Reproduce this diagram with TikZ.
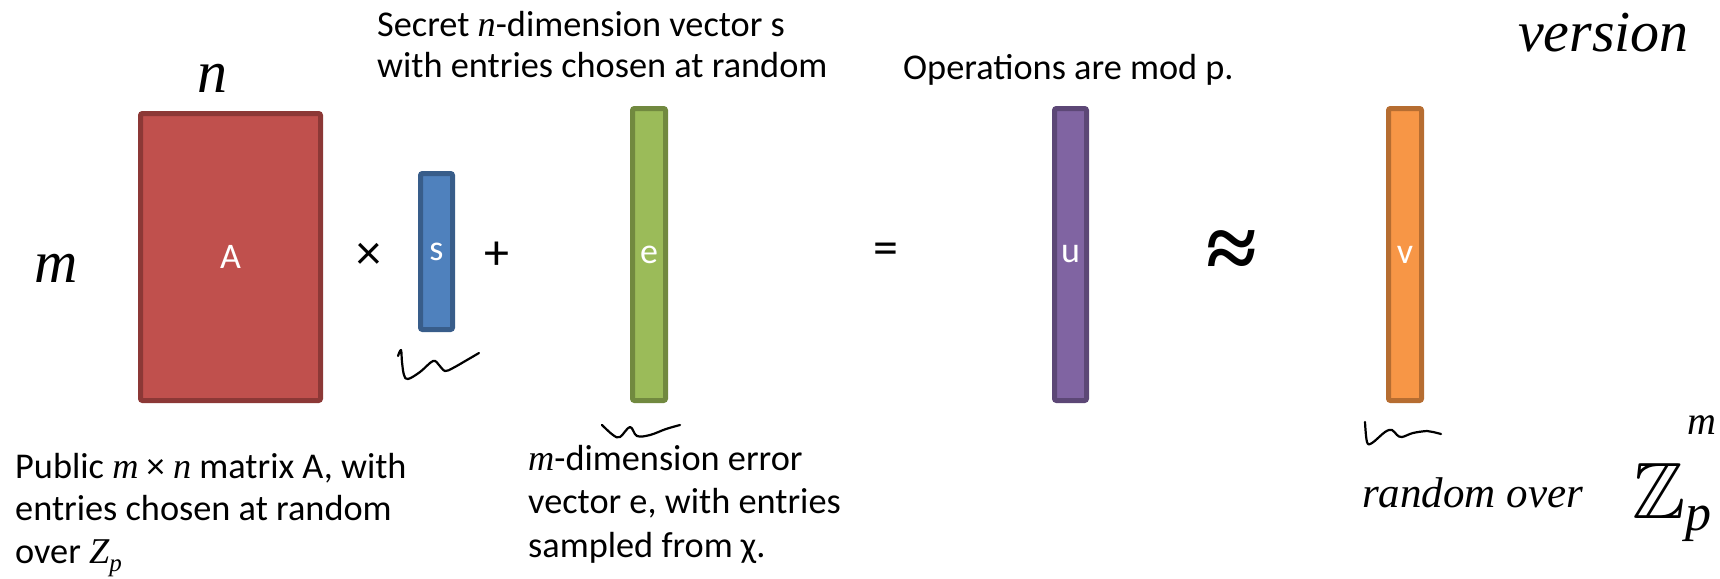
\documentclass[tikz,border=0pt]{standalone}
\usepackage{amssymb}
\usepackage{fontspec}
\setmainfont{Carlito}
\newfontfamily\handfont{Liberation Serif}
\newfontfamily\mfont{Liberation Serif}
\newcommand{\mv}[1]{{\mfont\itshape #1}}
\definecolor{redF}{HTML}{C0504D}\definecolor{redD}{HTML}{8C3836}
\definecolor{bluF}{HTML}{4F81BD}\definecolor{bluD}{HTML}{385D8A}
\definecolor{grnF}{HTML}{9BBB59}\definecolor{grnD}{HTML}{71893F}
\definecolor{purF}{HTML}{8064A2}\definecolor{purD}{HTML}{5C4776}
\definecolor{orgF}{HTML}{F79646}\definecolor{orgD}{HTML}{B66D31}
\begin{document}
\begin{tikzpicture}[x=1pt,y=-1pt,
  mat/.style={draw, line width=5pt, rounded corners=2pt, inner sep=0pt, text=white,
    font=\fontsize{36}{40}\selectfont},
  txt/.style={anchor=base west, inner sep=0pt, font=\fontsize{36.3}{42.5}\selectfont},
  op/.style={inner sep=0pt, font=\fontsize{50}{50}\selectfont},
  hand/.style={inner sep=0pt, font=\handfont\itshape\fontsize{60}{60}\selectfont},
  squig/.style={line width=2.2pt, line cap=round, line join=round}]
\useasboundingbox (0,0) rectangle (1720,578);
% matrices and vectors
\node[mat, fill=redF, draw=redD, minimum width=180, minimum height=287] (A) at (230.5,257) {A};
\node[mat, fill=bluF, draw=bluD, minimum width=32, minimum height=156] (s) at (436.5,251.5) {s};
\node[mat, fill=grnF, draw=grnD, minimum width=33, minimum height=292] (e) at (649,254.5) {e};
\node[mat, fill=purF, draw=purD, minimum width=32, minimum height=292] (u) at (1070.5,254.5) {u};
\node[mat, fill=orgF, draw=orgD, minimum width=33, minimum height=292] (v) at (1405,254.5) {v};
% operators
\node[op] (times) at (369,256) {×};
\node[op] (plus) at (497,256) {+};
\node[op] (eq) at (886,254) {=};
\node[inner sep=0pt, font=\mfont\bfseries\fontsize{92}{92}\selectfont] (approx) at (1232,255) {≈};
% printed texts
\node[txt] (secret) at (377,37) {\begin{tabular}[t]{@{}l@{}}Secret \mv{n}-dimension vector s\\[-1.5pt]with entries chosen at random\end{tabular}};
\node[txt] (ops) at (903,79) {Operations are mod p.};
\node[txt] (public) at (15,478) {\begin{tabular}[t]{@{}l@{}}Public \mv{m}~×~\mv{n} matrix A, with\\entries chosen at random\\over \mv{Z}\raisebox{-8pt}{\fontsize{25}{25}\selectfont\mv{p}}\end{tabular}};
\node[txt] (err) at (528,470) {\begin{tabular}[t]{@{}l@{}}\mv{m}-dimension error\\[1pt]vector e, with entries\\[1pt]sampled from χ.\end{tabular}};
% handwritten texts
\node[hand] (hn) at (212,78) {n};
\node[hand] (hm) at (56,268) {m};
\node[hand, anchor=base west, font=\handfont\itshape\fontsize{58}{58}\selectfont] (version) at (1518,52) {version};
\node[hand, anchor=base west, font=\handfont\itshape\fontsize{43}{43}\selectfont] (rnd) at (1362,507) {random over};
\node[inner sep=0pt, anchor=base west, font=\handfont\itshape\fontsize{80}{80}\selectfont] (zp) at (1632,518) {$\mathbb{Z}$\raisebox{-12pt}{\fontsize{52}{52}\selectfont p}\raisebox{84pt}{\kern-24pt\fontsize{40}{40}\selectfont m}};
% vector squiggles
\draw[squig] plot[smooth, tension=0.6] coordinates {(398,356) (401,350) (402,362) (404,375) (408,379) (420,372) (433,361) (439,365) (445,371) (453,368) (467,360) (479,353)};
\draw[squig] plot[smooth, tension=0.6] coordinates {(602,425) (613,435) (620,437) (630,427) (637,436) (650,435) (666,429) (680,425)};
\draw[squig] plot[smooth, tension=0.6] coordinates {(1365,422) (1367,442) (1372,443) (1385,432) (1392,430) (1397,435) (1402,437) (1413,433) (1427,431) (1433,432) (1441,434)};
\end{tikzpicture}
\end{document}
